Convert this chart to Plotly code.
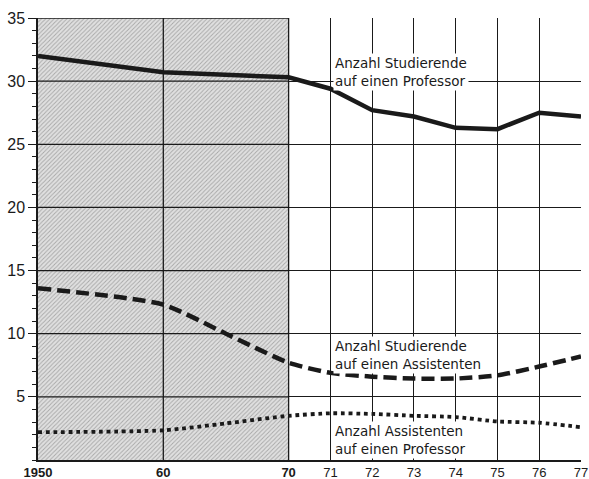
import plotly.graph_objects as go

# ---- data ----
tick_years = [1950, 1960, 1970, 1971, 1972, 1973, 1974, 1975, 1976, 1977]
tick_labels = ["<b>1950</b>", "<b>60</b>", "<b>70</b>", "71", "72", "73", "74", "75", "76", "77"]

prof_years = [1950, 1960, 1970, 1971, 1972, 1973, 1974, 1975, 1976, 1977]
stud_per_prof = [32.0, 30.7, 30.3, 29.4, 27.7, 27.2, 26.3, 26.2, 27.5, 27.2]

ass_years = [1950, 1960, 1965, 1970, 1971, 1972, 1973, 1974, 1975, 1976, 1977]
stud_per_ass = [13.6, 12.3, 10.0, 7.7, 6.9, 6.6, 6.45, 6.45, 6.7, 7.4, 8.2]

ratio_years = [1950, 1960, 1965, 1970, 1971, 1972, 1973, 1974, 1975, 1976, 1977]
ass_per_prof = [2.2, 2.35, 2.9, 3.5, 3.7, 3.65, 3.5, 3.4, 3.05, 2.95, 2.6]

y_ticks = [5, 10, 15, 20, 25, 30, 35]
shaded_years = [1950, 1970]


def pos(year):
    # axis is compressed before 1970: one decade takes the width of three years
    return (year - 1950) * 0.3 if year <= 1970 else 6 + (year - 1970)


INK = "#1a1a1a"
fig = go.Figure()

# shaded (hatched) period 1950-1970
x0, x1 = pos(shaded_years[0]), pos(shaded_years[1])
fig.add_trace(go.Scatter(
    x=[x0, x1, x1, x0, x0], y=[0, 0, 35, 35, 0],
    mode="lines", line=dict(width=0), fill="toself",
    fillcolor="#d0d0d0",
    fillpattern=dict(shape="/", size=3, solidity=0.3, fgcolor="#6e6e6e", bgcolor="#e0e0e0"),
    hoverinfo="skip", showlegend=False,
))

# grid lines redrawn on top of the hatching
for yv in y_ticks:
    fig.add_shape(type="line", xref="x", yref="y", x0=x0, x1=x1, y0=yv, y1=yv,
                  line=dict(color=INK, width=1.3), layer="above")
for yr in tick_years:
    if shaded_years[0] < yr <= shaded_years[1]:
        fig.add_shape(type="line", xref="x", yref="y", x0=pos(yr), x1=pos(yr), y0=0, y1=35,
                      line=dict(color=INK, width=1.3), layer="above")

fig.add_trace(go.Scatter(
    x=[pos(y) for y in prof_years], y=stud_per_prof, mode="lines",
    line=dict(color=INK, width=4.5), showlegend=False,
))
fig.add_trace(go.Scatter(
    x=[pos(y) for y in ass_years], y=stud_per_ass, mode="lines",
    line=dict(color=INK, width=4.5, dash="13px,6px", shape="spline", smoothing=0.6),
    showlegend=False,
))
fig.add_trace(go.Scatter(
    x=[pos(y) for y in ratio_years], y=ass_per_prof, mode="lines",
    line=dict(color=INK, width=3.8, dash="dot", shape="spline", smoothing=0.6),
    showlegend=False,
))

font_family = "Liberation Sans, Arial, sans-serif"
ann_font = dict(family="DejaVu Sans, sans-serif", size=13.5, color=INK)
for text, yv in [
    ("Anzahl Studierende<br>auf einen Professor", 30.7),
    ("Anzahl Studierende<br>auf einen Assistenten", 8.3),
    ("Anzahl Assistenten<br>auf einen Professor", 1.6),
]:
    fig.add_annotation(
        x=pos(1971) + 0.06, y=yv, xref="x", yref="y", text=text, showarrow=False,
        xanchor="left", yanchor="middle", align="left", font=ann_font,
        bgcolor="white", borderpad=1,
    )

fig.update_layout(
    width=589, height=479,
    margin=dict(l=38, r=8, t=18, b=19),
    paper_bgcolor="white", plot_bgcolor="white",
    font=dict(family=font_family, color=INK),
)
fig.update_xaxes(
    range=[0, 13], tickvals=[pos(y) for y in tick_years], ticktext=tick_labels,
    showgrid=True, gridcolor=INK, gridwidth=1,
    showline=True, linecolor=INK, linewidth=1.5, mirror=False,
    ticks="", tickfont=dict(size=13, color=INK), zeroline=False, automargin=False,
    ticklabelstandoff=0,
)
fig.update_yaxes(
    range=[0, 35], tickvals=y_ticks,
    showgrid=True, gridcolor=INK, gridwidth=1,
    showline=True, linecolor=INK, linewidth=1.5,
    ticks="outside", ticklen=8, tickwidth=1.2, tickcolor=INK,
    minor=dict(dtick=1, ticks="outside", ticklen=4, tickwidth=1, tickcolor=INK, showgrid=False),
    tickfont=dict(size=16, color=INK), zeroline=False, automargin=False,
)

fig.write_html(
    "out.html",
    config={"displayModeBar": False},
    post_script="document.body.style.margin='0';document.body.style.overflow='hidden';",
)
